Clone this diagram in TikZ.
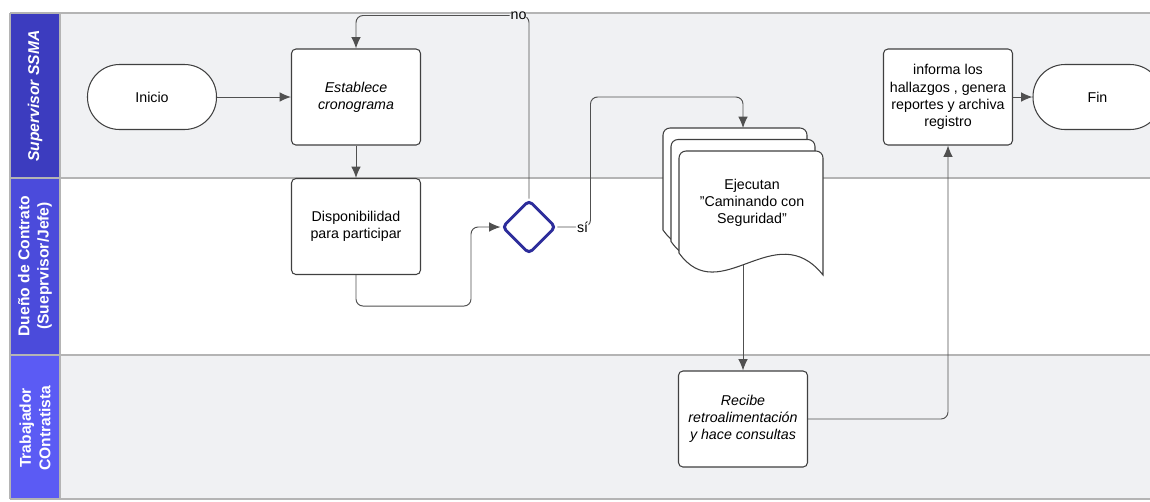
\documentclass[tikz,border=0pt]{standalone}
\usepackage{fontspec}
\setmainfont{Liberation Sans}
\usetikzlibrary{arrows.meta,shapes.geometric}
\definecolor{laneA}{HTML}{3C3CBF}
\definecolor{laneB}{HTML}{4B4BDB}
\definecolor{laneC}{HTML}{5B5BF4}
\definecolor{lanebg}{HTML}{F0F1F3}
\definecolor{laneline}{HTML}{B4B4B4}
\definecolor{gateblue}{HTML}{2D2D9B}
\definecolor{wirecol}{HTML}{505050}
\newcommand{\dq}{{\char34}}
\tikzset{
  txt/.style={font=\fontsize{8.1}{9.8}\selectfont},
  box/.style={txt,draw=black!75,fill=white,rounded corners=2.5pt,line width=0.6pt,
    minimum width=2.58cm,minimum height=1.92cm,align=center,inner sep=1pt},
  boxit/.style={box,font=\fontsize{8.1}{9.8}\selectfont\itshape},
  term/.style={txt,draw=black!75,fill=white,rounded corners=0.64cm,line width=0.6pt,
    minimum width=2.58cm,minimum height=1.3cm},
  gate/.style={diamond,draw=gateblue,line width=1.7pt,fill=white,minimum size=1.08cm,
    inner sep=0pt,rounded corners=2.5pt},
  wire/.style={draw=wirecol,line width=0.55pt,rounded corners=4pt},
  lanetxt/.style={rotate=90,text=white,font=\bfseries\fontsize{8.9}{11}\selectfont,align=center},
  tag/.style={txt,inner sep=0.6pt}
}
\begin{document}
\begin{tikzpicture}[x=0.02cm,y=-0.02cm,>={Latex[length=6.5pt,width=5.5pt]}]
\useasboundingbox (0,0) rectangle (1150,501);
\clip (0,0) rectangle (1150,501);
% lanes
\fill[lanebg] (60,13) rectangle (1170,178);
\fill[white] (60,178) rectangle (1170,355);
\fill[lanebg] (60,355) rectangle (1170,499);
\fill[laneA] (10,13) rectangle (60,178);
\fill[laneB] (10,178) rectangle (60,355);
\fill[laneC] (10,355) rectangle (60,499);
\foreach \ly in {13,178,355,499}
  \draw[laneline,line width=1pt] (10,\ly) -- (1170,\ly);
\draw[laneline,line width=1pt] (10,13) -- (10,499) (60,13) -- (60,499);
\node[lanetxt] (laneA) at (35,96) {\itshape Supervisor SSMA};
\node[lanetxt] (laneB) at (35,266) {Dueño de Contrato\\(Sueprvisor/Jefe)};
\node[lanetxt] (laneC) at (35,428) {Trabajador\\COntratista};
% steps
\node[term] (inicio) at (152,97) {Inicio};
\node[boxit] (estab) at (356,97) {Establece\\cronograma};
\node[box] (dispo) at (356,226.5) {Disponibilidad\\para participar};
\node[gate] (gate) at (529,227) {};
\foreach \dx/\dy in {-16/-23,-8/-11.5,0/0}
  \draw[black!75,fill=white,line width=0.6pt,shift={(\dx,\dy)}]
    (679,253) [rounded corners=4pt] -- (679,151) -- (823,151) [sharp corners] -- (823,275)
    .. controls (775,215) and (720,310) .. (679,253) -- cycle;
\node[txt,align=center] (ejec) at (752,203) {Ejecutan\\\dq Caminando con\\Seguridad\dq};
\coordinate (ejectop) at (743,128);
\coordinate (ejecbot) at (743,265);
\node[boxit] (recibe) at (743,419) {Recibe\\retroalimentación\\y hace consultas};
\node[box] (informa) at (948,97) {informa los\\hallazgos , genera\\reportes y archiva\\registro};
\node[term] (fin) at (1097.5,97) {Fin};
% flows
\draw[wire,->] (inicio) -- (estab);
\draw[wire,->] (estab) -- (dispo);
\draw[wire,->] (dispo.south) -- ++(0,31) -| (471,227) -- (gate);
\draw[wire,->] (gate.north) -- ++(0,-183) -| node[tag,pos=0.03,fill=lanebg] (no) {no} (estab.north);
\draw[wire,->] (gate.east) -- node[tag,pos=0.76,fill=white] (si) {sí} ++(33,0) -- ++(0,-130) -| (ejectop);
\draw[wire,->] (ejecbot) -- (recibe);
\draw[wire,->] (recibe) -| (informa);
\draw[wire,->] (informa) -- (fin);
\end{tikzpicture}
\end{document}
